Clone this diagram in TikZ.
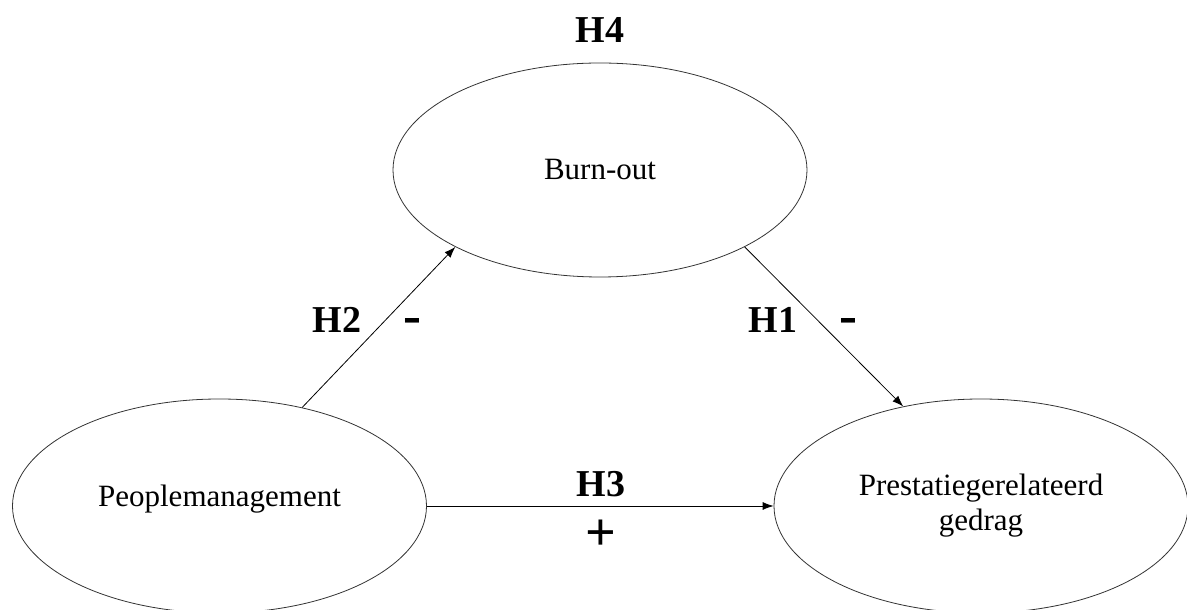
\documentclass[tikz,border=0pt]{standalone}
\usepackage{fontspec}
\setmainfont{Liberation Serif}
\usetikzlibrary{shapes.geometric,arrows.meta}
\tikzset{
  oval/.style={ellipse, draw=black!80, line width=0.8pt, minimum width=414pt, minimum height=214pt, inner sep=0pt, align=center, font=\fontsize{31}{35}\selectfont},
  hyp/.style={anchor=base, font=\fontsize{38}{38}\selectfont\bfseries},
  sgn/.style={anchor=base, font=\fontsize{54}{54}\selectfont\bfseries},
  conn/.style={line width=0.8pt, -{Latex[length=11pt,width=8pt]}}
}
\begin{document}
\begin{tikzpicture}[x=1pt,y=1pt]
\useasboundingbox (0,0) rectangle (1187,610);
\node[oval] (bo) at (600,440) {Burn-out};
\node[oval] (pm) at (219.5,104) {\raisebox{-1pt}[0pt][0pt]{Peoplemanagement}};
\node[oval] (pr) at (981,104) {Prestatiegerelateerd\\gedrag};
\draw[conn] (pm.50.7) -- (bo.208.3);
\draw[conn] (bo.332.5) -- (pr.128.3);
\draw[conn] (pm.east) -- (pr.west);
\node[hyp] (h4) at (600,567) {H4};
\node[hyp] (h2) at (337,277) {H2};
\node[sgn] (m2) at (412,276) {-};
\node[hyp] (h1) at (773,277) {H1};
\node[sgn] (m1) at (848,276) {-};
\node[hyp] (h3) at (601,113) {H3};
\node[sgn] (p3) at (601,59) {+};
\end{tikzpicture}
\end{document}
